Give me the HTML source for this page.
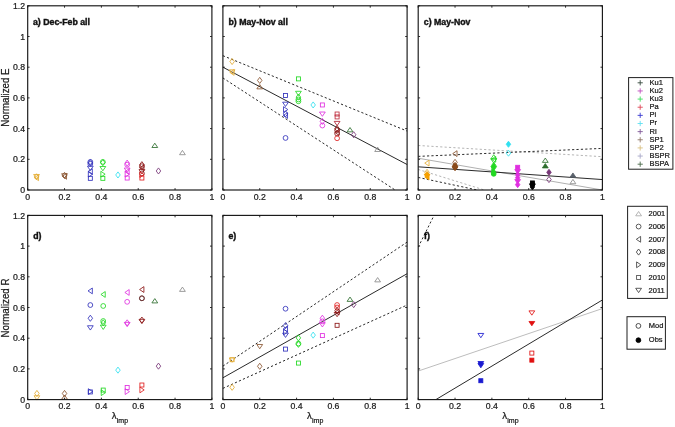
<!DOCTYPE html>
<html><head><meta charset="utf-8"><style>
html,body{margin:0;padding:0;background:#fff;}
body{width:675px;height:427px;overflow:hidden;}
svg{display:block;font-family:"Liberation Sans",sans-serif;will-change:transform;}
text{stroke:#111;stroke-width:0.22px;}
.b text{stroke-width:0.4px;}
</style></head><body>
<svg width="675" height="427" viewBox="0 0 675 427">
<rect width="675" height="427" fill="#fff"/>
<polygon points="36.54,173.75 38.79,176.80 36.54,179.85 34.29,176.80" fill="none" stroke="#e4ac34" stroke-width="0.85" stroke-linejoin="miter"/>
<polygon points="34.24,177.72 38.54,174.82 38.54,180.62" fill="none" stroke="#e4ac34" stroke-width="0.85" stroke-linejoin="miter"/>
<polygon points="36.54,178.79 39.44,174.49 33.64,174.49" fill="none" stroke="#e4ac34" stroke-width="0.85" stroke-linejoin="miter"/>
<polygon points="64.54,172.37 66.79,175.42 64.54,178.47 62.29,175.42" fill="none" stroke="#8a5530" stroke-width="0.85" stroke-linejoin="miter"/>
<polygon points="62.24,176.34 66.54,173.44 66.54,179.24" fill="none" stroke="#8a5530" stroke-width="0.85" stroke-linejoin="miter"/>
<polygon points="64.54,178.02 67.44,173.72 61.64,173.72" fill="none" stroke="#8a5530" stroke-width="0.85" stroke-linejoin="miter"/>
<circle cx="90.33" cy="161.91" r="2.40" fill="none" stroke="#3232bc" stroke-width="0.85"/>
<polygon points="90.33,159.63 92.58,162.68 90.33,165.73 88.08,162.68" fill="none" stroke="#3232bc" stroke-width="0.85" stroke-linejoin="miter"/>
<circle cx="90.33" cy="163.91" r="2.40" fill="none" stroke="#3232bc" stroke-width="0.85"/>
<polygon points="90.33,170.50 93.23,166.20 87.43,166.20" fill="none" stroke="#3232bc" stroke-width="0.85" stroke-linejoin="miter"/>
<polygon points="88.03,171.58 92.33,168.68 92.33,174.48" fill="none" stroke="#3232bc" stroke-width="0.85" stroke-linejoin="miter"/>
<polygon points="92.63,174.19 88.33,171.29 88.33,177.09" fill="none" stroke="#3232bc" stroke-width="0.85" stroke-linejoin="miter"/>
<rect x="88.33" y="176.33" width="4.00" height="4.00" fill="none" stroke="#3232bc" stroke-width="0.85"/>
<circle cx="102.85" cy="161.91" r="2.40" fill="none" stroke="#22d822" stroke-width="0.85"/>
<polygon points="102.85,159.63 105.10,162.68 102.85,165.73 100.60,162.68" fill="none" stroke="#22d822" stroke-width="0.85" stroke-linejoin="miter"/>
<polygon points="102.85,170.81 105.75,166.51 99.95,166.51" fill="none" stroke="#22d822" stroke-width="0.85" stroke-linejoin="miter"/>
<polygon points="105.15,174.19 100.85,171.29 100.85,177.09" fill="none" stroke="#22d822" stroke-width="0.85" stroke-linejoin="miter"/>
<rect x="100.85" y="176.33" width="4.00" height="4.00" fill="none" stroke="#22d822" stroke-width="0.85"/>
<polygon points="117.96,171.91 120.21,174.96 117.96,178.01 115.71,174.96" fill="none" stroke="#30e0f0" stroke-width="0.85" stroke-linejoin="miter"/>
<polygon points="127.17,160.09 129.42,163.14 127.17,166.19 124.92,163.14" fill="none" stroke="#e030e0" stroke-width="0.85" stroke-linejoin="miter"/>
<circle cx="127.17" cy="164.67" r="2.40" fill="none" stroke="#e030e0" stroke-width="0.85"/>
<polygon points="127.17,172.34 130.07,168.04 124.27,168.04" fill="none" stroke="#e030e0" stroke-width="0.85" stroke-linejoin="miter"/>
<polygon points="124.87,171.58 129.17,168.68 129.17,174.48" fill="none" stroke="#e030e0" stroke-width="0.85" stroke-linejoin="miter"/>
<polygon points="129.47,174.19 125.17,171.29 125.17,177.09" fill="none" stroke="#e030e0" stroke-width="0.85" stroke-linejoin="miter"/>
<rect x="125.17" y="176.03" width="4.00" height="4.00" fill="none" stroke="#e030e0" stroke-width="0.85"/>
<polygon points="141.90,161.62 144.15,164.67 141.90,167.72 139.65,164.67" fill="none" stroke="#8c1616" stroke-width="0.85" stroke-linejoin="miter"/>
<circle cx="141.90" cy="166.21" r="2.40" fill="none" stroke="#8c1616" stroke-width="0.85"/>
<polygon points="139.60,167.74 143.90,164.84 143.90,170.64" fill="none" stroke="#8c1616" stroke-width="0.85" stroke-linejoin="miter"/>
<polygon points="141.90,173.88 144.80,169.58 139.00,169.58" fill="none" stroke="#8c1616" stroke-width="0.85" stroke-linejoin="miter"/>
<circle cx="141.90" cy="173.42" r="2.40" fill="none" stroke="#8c1616" stroke-width="0.85"/>
<polygon points="144.20,174.65 139.90,171.75 139.90,177.55" fill="none" stroke="#e02020" stroke-width="0.85" stroke-linejoin="miter"/>
<rect x="139.90" y="176.03" width="4.00" height="4.00" fill="none" stroke="#e02020" stroke-width="0.85"/>
<polygon points="154.80,143.19 157.70,147.49 151.90,147.49" fill="none" stroke="#2e6e2e" stroke-width="0.85" stroke-linejoin="miter"/>
<polygon points="158.48,167.92 160.73,170.97 158.48,174.02 156.23,170.97" fill="none" stroke="#783878" stroke-width="0.85" stroke-linejoin="miter"/>
<polygon points="182.43,150.40 185.33,154.70 179.53,154.70" fill="none" stroke="#8a8a8a" stroke-width="0.85" stroke-linejoin="miter"/>
<line x1="222.90" y1="67.20" x2="407.10" y2="164.52" stroke="#2a2a2a" stroke-width="1.0"/>
<line x1="222.90" y1="55.69" x2="407.10" y2="131.06" stroke="#2a2a2a" stroke-width="1.0" stroke-dasharray="2.2,2.2"/>
<line x1="222.90" y1="77.95" x2="395.13" y2="190.00" stroke="#2a2a2a" stroke-width="1.0" stroke-dasharray="2.2,2.2"/>
<polygon points="232.11,58.47 234.36,61.52 232.11,64.57 229.86,61.52" fill="none" stroke="#e4ac34" stroke-width="0.85" stroke-linejoin="miter"/>
<polygon points="229.81,72.42 234.11,69.52 234.11,75.32" fill="none" stroke="#e4ac34" stroke-width="0.85" stroke-linejoin="miter"/>
<polygon points="232.11,74.10 235.01,69.80 229.21,69.80" fill="none" stroke="#e4ac34" stroke-width="0.85" stroke-linejoin="miter"/>
<polygon points="259.74,77.35 261.99,80.40 259.74,83.45 257.49,80.40" fill="none" stroke="#8a5530" stroke-width="0.85" stroke-linejoin="miter"/>
<polygon points="259.74,84.55 262.64,88.85 256.84,88.85" fill="none" stroke="#8a5530" stroke-width="0.85" stroke-linejoin="miter"/>
<rect x="283.53" y="93.44" width="4.00" height="4.00" fill="none" stroke="#3232bc" stroke-width="0.85"/>
<polygon points="285.53,106.49 288.43,102.19 282.63,102.19" fill="none" stroke="#3232bc" stroke-width="0.85" stroke-linejoin="miter"/>
<polygon points="287.83,109.57 283.53,106.67 283.53,112.47" fill="none" stroke="#3232bc" stroke-width="0.85" stroke-linejoin="miter"/>
<polygon points="285.53,110.81 287.78,113.86 285.53,116.91 283.28,113.86" fill="none" stroke="#3232bc" stroke-width="0.85" stroke-linejoin="miter"/>
<polygon points="283.23,115.55 287.53,112.65 287.53,118.45" fill="none" stroke="#3232bc" stroke-width="0.85" stroke-linejoin="miter"/>
<circle cx="285.53" cy="137.96" r="2.40" fill="none" stroke="#3232bc" stroke-width="0.85"/>
<rect x="296.42" y="76.87" width="4.00" height="4.00" fill="none" stroke="#22d822" stroke-width="0.85"/>
<polygon points="298.42,95.59 301.32,91.30 295.52,91.30" fill="none" stroke="#22d822" stroke-width="0.85" stroke-linejoin="miter"/>
<polygon points="298.42,94.08 300.67,97.13 298.42,100.18 296.17,97.13" fill="none" stroke="#22d822" stroke-width="0.85" stroke-linejoin="miter"/>
<circle cx="298.42" cy="99.44" r="2.40" fill="none" stroke="#22d822" stroke-width="0.85"/>
<circle cx="298.42" cy="101.28" r="2.40" fill="none" stroke="#22d822" stroke-width="0.85"/>
<polygon points="313.16,101.91 315.41,104.96 313.16,108.01 310.91,104.96" fill="none" stroke="#30e0f0" stroke-width="0.85" stroke-linejoin="miter"/>
<rect x="320.37" y="102.96" width="4.00" height="4.00" fill="none" stroke="#e030e0" stroke-width="0.85"/>
<polygon points="322.37,116.32 325.27,112.02 319.47,112.02" fill="none" stroke="#e030e0" stroke-width="0.85" stroke-linejoin="miter"/>
<polygon points="322.37,118.34 324.62,121.39 322.37,124.44 320.12,121.39" fill="none" stroke="#e030e0" stroke-width="0.85" stroke-linejoin="miter"/>
<circle cx="322.37" cy="125.53" r="2.40" fill="none" stroke="#e030e0" stroke-width="0.85"/>
<rect x="335.10" y="112.02" width="4.00" height="4.00" fill="none" stroke="#c03040" stroke-width="0.85"/>
<rect x="335.10" y="114.93" width="4.00" height="4.00" fill="none" stroke="#c03040" stroke-width="0.85"/>
<polygon points="337.10,125.68 340.00,121.38 334.20,121.38" fill="none" stroke="#b02030" stroke-width="0.85" stroke-linejoin="miter"/>
<polygon points="337.10,125.55 339.35,128.60 337.10,131.65 334.85,128.60" fill="none" stroke="#8c1616" stroke-width="0.85" stroke-linejoin="miter"/>
<circle cx="337.10" cy="130.13" r="2.40" fill="none" stroke="#8c1616" stroke-width="0.85"/>
<polygon points="334.80,132.44 339.10,129.54 339.10,135.34" fill="none" stroke="#8c1616" stroke-width="0.85" stroke-linejoin="miter"/>
<circle cx="337.10" cy="133.51" r="2.40" fill="none" stroke="#8c1616" stroke-width="0.85"/>
<circle cx="337.10" cy="138.27" r="2.40" fill="none" stroke="#e02020" stroke-width="0.85"/>
<polygon points="350.00,127.53 352.90,131.83 347.10,131.83" fill="none" stroke="#2e6e2e" stroke-width="0.85" stroke-linejoin="miter"/>
<polygon points="353.68,131.69 355.93,134.74 353.68,137.79 351.43,134.74" fill="none" stroke="#783878" stroke-width="0.85" stroke-linejoin="miter"/>
<polygon points="377.63,147.18 380.53,151.48 374.73,151.48" fill="none" stroke="#8a8a8a" stroke-width="0.85" stroke-linejoin="miter"/>
<clipPath id="cp20"><rect x="418.20" y="5.80" width="184.2" height="184.2"/></clipPath>
<g clip-path="url(#cp20)">
<line x1="418.20" y1="145.49" x2="602.40" y2="156.69" stroke="#b4b4b4" stroke-width="1.0" stroke-dasharray="2.2,2.2"/>
<line x1="418.20" y1="169.43" x2="484.33" y2="190.00" stroke="#b4b4b4" stroke-width="1.0" stroke-dasharray="2.2,2.2"/>
<line x1="418.20" y1="158.23" x2="602.40" y2="190.00" stroke="#b0b0b0" stroke-width="1.0"/>
<line x1="418.20" y1="156.38" x2="602.40" y2="148.40" stroke="#2a2a2a" stroke-width="1.0" stroke-dasharray="2.2,2.2"/>
<line x1="418.20" y1="177.41" x2="477.14" y2="190.00" stroke="#2a2a2a" stroke-width="1.0" stroke-dasharray="2.2,2.2"/>
<line x1="418.20" y1="166.82" x2="602.40" y2="179.56" stroke="#2a2a2a" stroke-width="1.0"/>
</g>
<polygon points="424.74,163.14 429.04,160.24 429.04,166.04" fill="none" stroke="#e4ac34" stroke-width="0.85" stroke-linejoin="miter"/>
<polygon points="427.04,169.30 429.29,172.35 427.04,175.40 424.79,172.35" fill="none" stroke="#e4ac34" stroke-width="0.85" stroke-linejoin="miter"/>
<polygon points="427.04,171.60 429.29,174.65 427.04,177.70 424.79,174.65" fill="#f5a000" stroke="#f5a000" stroke-width="0.85" stroke-linejoin="miter"/>
<polygon points="427.04,178.49 429.94,174.19 424.14,174.19" fill="#f5a000" stroke="#f5a000" stroke-width="0.85" stroke-linejoin="miter"/>
<polygon points="424.74,176.95 429.04,174.05 429.04,179.85" fill="#f5a000" stroke="#f5a000" stroke-width="0.85" stroke-linejoin="miter"/>
<polygon points="452.74,153.62 457.04,150.72 457.04,156.52" fill="none" stroke="#8a5530" stroke-width="0.85" stroke-linejoin="miter"/>
<polygon points="455.04,159.32 457.29,162.37 455.04,165.42 452.79,162.37" fill="none" stroke="#8a5530" stroke-width="0.85" stroke-linejoin="miter"/>
<polygon points="455.04,162.39 457.29,165.44 455.04,168.49 452.79,165.44" fill="#8a4a1a" stroke="#8a4a1a" stroke-width="0.85" stroke-linejoin="miter"/>
<circle cx="455.04" cy="166.97" r="2.40" fill="#8a4a1a" stroke="#8a4a1a" stroke-width="0.85"/>
<polygon points="455.04,170.81 457.94,166.51 452.14,166.51" fill="#8a4a1a" stroke="#8a4a1a" stroke-width="0.85" stroke-linejoin="miter"/>
<polygon points="493.72,154.70 496.62,159.00 490.82,159.00" fill="none" stroke="#22d822" stroke-width="0.85" stroke-linejoin="miter"/>
<polygon points="491.42,159.30 495.72,156.40 495.72,162.20" fill="none" stroke="#22d822" stroke-width="0.85" stroke-linejoin="miter"/>
<polygon points="493.72,163.14 496.62,158.84 490.82,158.84" fill="none" stroke="#22d822" stroke-width="0.85" stroke-linejoin="miter"/>
<polygon points="493.72,162.39 495.97,165.44 493.72,168.49 491.47,165.44" fill="#22d822" stroke="#22d822" stroke-width="0.85" stroke-linejoin="miter"/>
<polygon points="493.72,170.81 496.62,166.51 490.82,166.51" fill="#22d822" stroke="#22d822" stroke-width="0.85" stroke-linejoin="miter"/>
<polygon points="496.02,171.58 491.72,168.68 491.72,174.48" fill="#22d822" stroke="#22d822" stroke-width="0.85" stroke-linejoin="miter"/>
<circle cx="493.72" cy="173.88" r="2.40" fill="#22d822" stroke="#22d822" stroke-width="0.85"/>
<polygon points="508.46,141.21 510.71,144.26 508.46,147.31 506.21,144.26" fill="#30e0f0" stroke="#30e0f0" stroke-width="0.85" stroke-linejoin="miter"/>
<polygon points="508.46,150.11 510.71,153.16 508.46,156.21 506.21,153.16" fill="none" stroke="#30e0f0" stroke-width="0.85" stroke-linejoin="miter"/>
<rect x="515.67" y="165.28" width="4.00" height="4.00" fill="#e030e0" stroke="#e030e0" stroke-width="0.85"/>
<polygon points="517.67,173.88 520.57,169.58 514.77,169.58" fill="#e030e0" stroke="#e030e0" stroke-width="0.85" stroke-linejoin="miter"/>
<polygon points="517.67,171.60 519.92,174.65 517.67,177.70 515.42,174.65" fill="#e030e0" stroke="#e030e0" stroke-width="0.85" stroke-linejoin="miter"/>
<polygon points="517.67,174.67 519.92,177.72 517.67,180.77 515.42,177.72" fill="#e030e0" stroke="#e030e0" stroke-width="0.85" stroke-linejoin="miter"/>
<polygon points="517.67,183.86 520.57,179.56 514.77,179.56" fill="#e030e0" stroke="#e030e0" stroke-width="0.85" stroke-linejoin="miter"/>
<polygon points="517.67,181.58 519.92,184.63 517.67,187.68 515.42,184.63" fill="#e030e0" stroke="#e030e0" stroke-width="0.85" stroke-linejoin="miter"/>
<rect x="530.40" y="180.94" width="4.00" height="4.00" fill="#000000" stroke="#000000" stroke-width="0.85"/>
<circle cx="532.40" cy="184.47" r="2.40" fill="#000000" stroke="#000000" stroke-width="0.85"/>
<polygon points="532.40,188.16 535.30,183.86 529.50,183.86" fill="#000000" stroke="#000000" stroke-width="0.85" stroke-linejoin="miter"/>
<polygon points="532.40,183.88 534.65,186.93 532.40,189.98 530.15,186.93" fill="#000000" stroke="#000000" stroke-width="0.85" stroke-linejoin="miter"/>
<polygon points="545.30,158.07 548.20,162.37 542.40,162.37" fill="none" stroke="#2e6e2e" stroke-width="0.85" stroke-linejoin="miter"/>
<polygon points="545.30,163.60 548.20,167.90 542.40,167.90" fill="#2e6e2e" stroke="#2e6e2e" stroke-width="0.85" stroke-linejoin="miter"/>
<polygon points="548.98,169.30 551.23,172.35 548.98,175.40 546.73,172.35" fill="#783878" stroke="#783878" stroke-width="0.85" stroke-linejoin="miter"/>
<polygon points="548.98,176.51 551.23,179.56 548.98,182.61 546.73,179.56" fill="none" stroke="#783878" stroke-width="0.85" stroke-linejoin="miter"/>
<polygon points="572.93,172.96 575.83,177.26 570.03,177.26" fill="#58606a" stroke="#58606a" stroke-width="0.85" stroke-linejoin="miter"/>
<polygon points="572.93,179.41 575.83,183.71 570.03,183.71" fill="none" stroke="#8a8a8a" stroke-width="0.85" stroke-linejoin="miter"/>
<polygon points="36.91,390.41 39.16,393.46 36.91,396.51 34.66,393.46" fill="none" stroke="#e4ac34" stroke-width="0.85" stroke-linejoin="miter"/>
<polygon points="36.91,400.06 39.81,395.76 34.01,395.76" fill="none" stroke="#e4ac34" stroke-width="0.85" stroke-linejoin="miter"/>
<polygon points="64.54,390.41 66.79,393.46 64.54,396.51 62.29,393.46" fill="none" stroke="#8a5530" stroke-width="0.85" stroke-linejoin="miter"/>
<polygon points="64.54,395.00 67.44,399.30 61.64,399.30" fill="none" stroke="#8a5530" stroke-width="0.85" stroke-linejoin="miter"/>
<polygon points="88.03,290.92 92.33,288.02 92.33,293.82" fill="none" stroke="#3232bc" stroke-width="0.85" stroke-linejoin="miter"/>
<circle cx="90.33" cy="305.04" r="2.40" fill="none" stroke="#3232bc" stroke-width="0.85"/>
<polygon points="90.33,315.19 92.58,318.25 90.33,321.30 88.08,318.25" fill="none" stroke="#3232bc" stroke-width="0.85" stroke-linejoin="miter"/>
<polygon points="90.33,330.06 93.23,325.76 87.43,325.76" fill="none" stroke="#3232bc" stroke-width="0.85" stroke-linejoin="miter"/>
<polygon points="92.63,391.62 88.33,388.72 88.33,394.52" fill="none" stroke="#3232bc" stroke-width="0.85" stroke-linejoin="miter"/>
<rect x="88.33" y="389.93" width="4.00" height="4.00" fill="none" stroke="#3232bc" stroke-width="0.85"/>
<polygon points="100.92,294.45 105.22,291.55 105.22,297.35" fill="none" stroke="#22d822" stroke-width="0.85" stroke-linejoin="miter"/>
<circle cx="103.22" cy="305.97" r="2.40" fill="none" stroke="#22d822" stroke-width="0.85"/>
<circle cx="103.22" cy="321.01" r="2.40" fill="none" stroke="#22d822" stroke-width="0.85"/>
<polygon points="103.22,319.80 105.47,322.85 103.22,325.90 100.97,322.85" fill="none" stroke="#22d822" stroke-width="0.85" stroke-linejoin="miter"/>
<polygon points="103.22,329.45 106.12,325.15 100.32,325.15" fill="none" stroke="#22d822" stroke-width="0.85" stroke-linejoin="miter"/>
<rect x="101.22" y="388.08" width="4.00" height="4.00" fill="none" stroke="#22d822" stroke-width="0.85"/>
<polygon points="105.52,392.69 101.22,389.79 101.22,395.59" fill="none" stroke="#22d822" stroke-width="0.85" stroke-linejoin="miter"/>
<polygon points="124.87,292.46 129.17,289.56 129.17,295.36" fill="none" stroke="#e030e0" stroke-width="0.85" stroke-linejoin="miter"/>
<circle cx="127.17" cy="301.82" r="2.40" fill="none" stroke="#e030e0" stroke-width="0.85"/>
<polygon points="127.17,319.80 129.42,322.85 127.17,325.90 124.92,322.85" fill="none" stroke="#e030e0" stroke-width="0.85" stroke-linejoin="miter"/>
<polygon points="127.17,326.69 130.07,322.38 124.27,322.38" fill="none" stroke="#e030e0" stroke-width="0.85" stroke-linejoin="miter"/>
<rect x="125.17" y="385.47" width="4.00" height="4.00" fill="none" stroke="#e030e0" stroke-width="0.85"/>
<polygon points="129.47,391.62 125.17,388.72 125.17,394.52" fill="none" stroke="#e030e0" stroke-width="0.85" stroke-linejoin="miter"/>
<polygon points="139.60,289.54 143.90,286.64 143.90,292.44" fill="none" stroke="#8c1616" stroke-width="0.85" stroke-linejoin="miter"/>
<circle cx="141.90" cy="298.29" r="2.40" fill="none" stroke="#6a3030" stroke-width="0.85"/>
<circle cx="141.90" cy="298.29" r="2.40" fill="none" stroke="#6a3030" stroke-width="0.85"/>
<polygon points="141.90,317.04 144.15,320.09 141.90,323.14 139.65,320.09" fill="none" stroke="#8c1616" stroke-width="0.85" stroke-linejoin="miter"/>
<polygon points="141.90,323.62 144.80,319.32 139.00,319.32" fill="none" stroke="#8c1616" stroke-width="0.85" stroke-linejoin="miter"/>
<rect x="139.90" y="383.02" width="4.00" height="4.00" fill="none" stroke="#e02020" stroke-width="0.85"/>
<polygon points="144.20,389.93 139.90,387.03 139.90,392.83" fill="none" stroke="#e02020" stroke-width="0.85" stroke-linejoin="miter"/>
<polygon points="117.96,367.08 120.21,370.13 117.96,373.18 115.71,370.13" fill="none" stroke="#30e0f0" stroke-width="0.85" stroke-linejoin="miter"/>
<polygon points="158.48,363.09 160.73,366.14 158.48,369.19 156.23,366.14" fill="none" stroke="#783878" stroke-width="0.85" stroke-linejoin="miter"/>
<polygon points="154.80,298.60 157.70,302.90 151.90,302.90" fill="none" stroke="#2e6e2e" stroke-width="0.85" stroke-linejoin="miter"/>
<polygon points="182.43,287.09 185.33,291.39 179.53,291.39" fill="none" stroke="#8a8a8a" stroke-width="0.85" stroke-linejoin="miter"/>
<line x1="222.90" y1="377.80" x2="407.10" y2="273.73" stroke="#2a2a2a" stroke-width="1.0"/>
<line x1="222.90" y1="366.14" x2="407.10" y2="242.11" stroke="#2a2a2a" stroke-width="1.0" stroke-dasharray="2.2,2.2"/>
<line x1="222.90" y1="388.39" x2="407.10" y2="305.04" stroke="#2a2a2a" stroke-width="1.0" stroke-dasharray="2.2,2.2"/>
<rect x="230.11" y="357.69" width="4.00" height="4.00" fill="none" stroke="#e4ac34" stroke-width="0.85"/>
<polygon points="232.11,362.30 235.01,358.00 229.21,358.00" fill="none" stroke="#e4ac34" stroke-width="0.85" stroke-linejoin="miter"/>
<polygon points="232.11,384.27 234.36,387.32 232.11,390.37 229.86,387.32" fill="none" stroke="#e4ac34" stroke-width="0.85" stroke-linejoin="miter"/>
<polygon points="259.74,348.79 262.64,344.49 256.84,344.49" fill="none" stroke="#8a5530" stroke-width="0.85" stroke-linejoin="miter"/>
<polygon points="259.74,363.24 261.99,366.29 259.74,369.34 257.49,366.29" fill="none" stroke="#8a5530" stroke-width="0.85" stroke-linejoin="miter"/>
<circle cx="285.53" cy="308.73" r="2.40" fill="none" stroke="#3232bc" stroke-width="0.85"/>
<polygon points="285.53,322.56 287.78,325.61 285.53,328.66 283.28,325.61" fill="none" stroke="#3232bc" stroke-width="0.85" stroke-linejoin="miter"/>
<polygon points="283.23,328.99 287.53,326.09 287.53,331.89" fill="none" stroke="#3232bc" stroke-width="0.85" stroke-linejoin="miter"/>
<polygon points="287.83,332.06 283.53,329.16 283.53,334.96" fill="none" stroke="#3232bc" stroke-width="0.85" stroke-linejoin="miter"/>
<polygon points="285.53,337.43 288.43,333.13 282.63,333.13" fill="none" stroke="#3232bc" stroke-width="0.85" stroke-linejoin="miter"/>
<rect x="283.53" y="347.10" width="4.00" height="4.00" fill="none" stroke="#3232bc" stroke-width="0.85"/>
<polygon points="298.42,334.84 300.67,337.89 298.42,340.94 296.17,337.89" fill="none" stroke="#22d822" stroke-width="0.85" stroke-linejoin="miter"/>
<polygon points="298.42,341.29 300.67,344.34 298.42,347.39 296.17,344.34" fill="none" stroke="#22d822" stroke-width="0.85" stroke-linejoin="miter"/>
<circle cx="298.42" cy="343.57" r="2.40" fill="none" stroke="#22d822" stroke-width="0.85"/>
<rect x="296.42" y="361.07" width="4.00" height="4.00" fill="none" stroke="#22d822" stroke-width="0.85"/>
<polygon points="313.16,332.08 315.41,335.13 313.16,338.18 310.91,335.13" fill="none" stroke="#30e0f0" stroke-width="0.85" stroke-linejoin="miter"/>
<polygon points="322.37,315.19 324.62,318.25 322.37,321.30 320.12,318.25" fill="none" stroke="#e030e0" stroke-width="0.85" stroke-linejoin="miter"/>
<circle cx="322.37" cy="321.32" r="2.40" fill="none" stroke="#e030e0" stroke-width="0.85"/>
<polygon points="322.37,326.99 325.27,322.69 319.47,322.69" fill="none" stroke="#e030e0" stroke-width="0.85" stroke-linejoin="miter"/>
<rect x="320.37" y="333.59" width="4.00" height="4.00" fill="none" stroke="#e030e0" stroke-width="0.85"/>
<circle cx="337.10" cy="305.04" r="2.40" fill="none" stroke="#e02020" stroke-width="0.85"/>
<circle cx="337.10" cy="307.50" r="2.40" fill="none" stroke="#e02020" stroke-width="0.85"/>
<polygon points="337.10,307.52 339.35,310.57 337.10,313.62 334.85,310.57" fill="none" stroke="#8c1616" stroke-width="0.85" stroke-linejoin="miter"/>
<polygon points="334.80,312.11 339.10,309.21 339.10,315.00" fill="none" stroke="#8c1616" stroke-width="0.85" stroke-linejoin="miter"/>
<polygon points="337.10,316.71 340.00,312.41 334.20,312.41" fill="none" stroke="#8c1616" stroke-width="0.85" stroke-linejoin="miter"/>
<rect x="335.10" y="323.31" width="4.00" height="4.00" fill="none" stroke="#8c1616" stroke-width="0.85"/>
<polygon points="350.00,297.06 352.90,301.36 347.10,301.36" fill="none" stroke="#2e6e2e" stroke-width="0.85" stroke-linejoin="miter"/>
<polygon points="353.68,301.53 355.93,304.58 353.68,307.63 351.43,304.58" fill="none" stroke="#783878" stroke-width="0.85" stroke-linejoin="miter"/>
<polygon points="377.63,277.57 380.53,281.87 374.73,281.87" fill="none" stroke="#8a8a8a" stroke-width="0.85" stroke-linejoin="miter"/>
<clipPath id="cp21"><rect x="418.20" y="215.40" width="184.2" height="184.2"/></clipPath>
<g clip-path="url(#cp21)">
<line x1="418.20" y1="371.05" x2="602.40" y2="308.57" stroke="#bdbdbd" stroke-width="1.0"/>
<line x1="435.88" y1="399.60" x2="602.40" y2="299.98" stroke="#2a2a2a" stroke-width="1.0"/>
<line x1="418.20" y1="247.17" x2="434.04" y2="215.40" stroke="#2a2a2a" stroke-width="1.0" stroke-dasharray="2.2,2.2"/>
</g>
<polygon points="480.83,337.74 483.73,333.44 477.93,333.44" fill="none" stroke="#1a1ad0" stroke-width="0.85" stroke-linejoin="miter"/>
<polygon points="480.83,365.83 483.73,361.53 477.93,361.53" fill="#1a1ad0" stroke="#1a1ad0" stroke-width="0.85" stroke-linejoin="miter"/>
<polygon points="480.83,367.82 483.73,363.52 477.93,363.52" fill="#1a1ad0" stroke="#1a1ad0" stroke-width="0.85" stroke-linejoin="miter"/>
<rect x="478.83" y="378.72" width="4.00" height="4.00" fill="#1a1ad0" stroke="#1a1ad0" stroke-width="0.85"/>
<polygon points="531.85,315.17 534.75,310.87 528.95,310.87" fill="none" stroke="#e01010" stroke-width="0.85" stroke-linejoin="miter"/>
<polygon points="531.85,325.76 534.75,321.46 528.95,321.46" fill="#e01010" stroke="#e01010" stroke-width="0.85" stroke-linejoin="miter"/>
<rect x="529.85" y="351.09" width="4.00" height="4.00" fill="none" stroke="#e01010" stroke-width="0.85"/>
<rect x="529.85" y="358.15" width="4.00" height="4.00" fill="#e01010" stroke="#e01010" stroke-width="0.85"/>
<g stroke="#1a1a1a" stroke-width="0.9"><line x1="27.70" y1="190.00" x2="27.70" y2="188.10"/><line x1="27.70" y1="5.80" x2="27.70" y2="7.70"/><line x1="64.54" y1="190.00" x2="64.54" y2="188.10"/><line x1="64.54" y1="5.80" x2="64.54" y2="7.70"/><line x1="101.38" y1="190.00" x2="101.38" y2="188.10"/><line x1="101.38" y1="5.80" x2="101.38" y2="7.70"/><line x1="138.22" y1="190.00" x2="138.22" y2="188.10"/><line x1="138.22" y1="5.80" x2="138.22" y2="7.70"/><line x1="175.06" y1="190.00" x2="175.06" y2="188.10"/><line x1="175.06" y1="5.80" x2="175.06" y2="7.70"/><line x1="211.90" y1="190.00" x2="211.90" y2="188.10"/><line x1="211.90" y1="5.80" x2="211.90" y2="7.70"/><line x1="27.70" y1="190.00" x2="29.60" y2="190.00"/><line x1="211.90" y1="190.00" x2="210.00" y2="190.00"/><line x1="27.70" y1="159.30" x2="29.60" y2="159.30"/><line x1="211.90" y1="159.30" x2="210.00" y2="159.30"/><line x1="27.70" y1="128.60" x2="29.60" y2="128.60"/><line x1="211.90" y1="128.60" x2="210.00" y2="128.60"/><line x1="27.70" y1="97.90" x2="29.60" y2="97.90"/><line x1="211.90" y1="97.90" x2="210.00" y2="97.90"/><line x1="27.70" y1="67.20" x2="29.60" y2="67.20"/><line x1="211.90" y1="67.20" x2="210.00" y2="67.20"/><line x1="27.70" y1="36.50" x2="29.60" y2="36.50"/><line x1="211.90" y1="36.50" x2="210.00" y2="36.50"/><line x1="27.70" y1="5.80" x2="29.60" y2="5.80"/><line x1="211.90" y1="5.80" x2="210.00" y2="5.80"/></g>
<rect x="27.70" y="5.80" width="184.2" height="184.2" fill="none" stroke="#161616" stroke-width="1.15"/>
<g font-size="8.7" fill="#1e1e1e"><text x="27.70" y="199.70" text-anchor="middle">0</text><text x="64.54" y="199.70" text-anchor="middle">0.2</text><text x="101.38" y="199.70" text-anchor="middle">0.4</text><text x="138.22" y="199.70" text-anchor="middle">0.6</text><text x="175.06" y="199.70" text-anchor="middle">0.8</text><text x="211.90" y="199.70" text-anchor="middle">1</text></g>
<g font-size="8.7" fill="#1e1e1e"><text x="25.10" y="193.10" text-anchor="end">0</text><text x="25.10" y="162.40" text-anchor="end">0.2</text><text x="25.10" y="131.70" text-anchor="end">0.4</text><text x="25.10" y="101.00" text-anchor="end">0.6</text><text x="25.10" y="70.30" text-anchor="end">0.8</text><text x="25.10" y="39.60" text-anchor="end">1</text><text x="25.10" y="8.90" text-anchor="end">1.2</text></g>
<g stroke="#1a1a1a" stroke-width="0.9"><line x1="222.90" y1="190.00" x2="222.90" y2="188.10"/><line x1="222.90" y1="5.80" x2="222.90" y2="7.70"/><line x1="259.74" y1="190.00" x2="259.74" y2="188.10"/><line x1="259.74" y1="5.80" x2="259.74" y2="7.70"/><line x1="296.58" y1="190.00" x2="296.58" y2="188.10"/><line x1="296.58" y1="5.80" x2="296.58" y2="7.70"/><line x1="333.42" y1="190.00" x2="333.42" y2="188.10"/><line x1="333.42" y1="5.80" x2="333.42" y2="7.70"/><line x1="370.26" y1="190.00" x2="370.26" y2="188.10"/><line x1="370.26" y1="5.80" x2="370.26" y2="7.70"/><line x1="407.10" y1="190.00" x2="407.10" y2="188.10"/><line x1="407.10" y1="5.80" x2="407.10" y2="7.70"/><line x1="222.90" y1="190.00" x2="224.80" y2="190.00"/><line x1="407.10" y1="190.00" x2="405.20" y2="190.00"/><line x1="222.90" y1="159.30" x2="224.80" y2="159.30"/><line x1="407.10" y1="159.30" x2="405.20" y2="159.30"/><line x1="222.90" y1="128.60" x2="224.80" y2="128.60"/><line x1="407.10" y1="128.60" x2="405.20" y2="128.60"/><line x1="222.90" y1="97.90" x2="224.80" y2="97.90"/><line x1="407.10" y1="97.90" x2="405.20" y2="97.90"/><line x1="222.90" y1="67.20" x2="224.80" y2="67.20"/><line x1="407.10" y1="67.20" x2="405.20" y2="67.20"/><line x1="222.90" y1="36.50" x2="224.80" y2="36.50"/><line x1="407.10" y1="36.50" x2="405.20" y2="36.50"/><line x1="222.90" y1="5.80" x2="224.80" y2="5.80"/><line x1="407.10" y1="5.80" x2="405.20" y2="5.80"/></g>
<rect x="222.90" y="5.80" width="184.2" height="184.2" fill="none" stroke="#161616" stroke-width="1.15"/>
<g font-size="8.7" fill="#1e1e1e"><text x="222.90" y="199.70" text-anchor="middle">0</text><text x="259.74" y="199.70" text-anchor="middle">0.2</text><text x="296.58" y="199.70" text-anchor="middle">0.4</text><text x="333.42" y="199.70" text-anchor="middle">0.6</text><text x="370.26" y="199.70" text-anchor="middle">0.8</text><text x="407.10" y="199.70" text-anchor="middle">1</text></g>
<g stroke="#1a1a1a" stroke-width="0.9"><line x1="418.20" y1="190.00" x2="418.20" y2="188.10"/><line x1="418.20" y1="5.80" x2="418.20" y2="7.70"/><line x1="455.04" y1="190.00" x2="455.04" y2="188.10"/><line x1="455.04" y1="5.80" x2="455.04" y2="7.70"/><line x1="491.88" y1="190.00" x2="491.88" y2="188.10"/><line x1="491.88" y1="5.80" x2="491.88" y2="7.70"/><line x1="528.72" y1="190.00" x2="528.72" y2="188.10"/><line x1="528.72" y1="5.80" x2="528.72" y2="7.70"/><line x1="565.56" y1="190.00" x2="565.56" y2="188.10"/><line x1="565.56" y1="5.80" x2="565.56" y2="7.70"/><line x1="602.40" y1="190.00" x2="602.40" y2="188.10"/><line x1="602.40" y1="5.80" x2="602.40" y2="7.70"/><line x1="418.20" y1="190.00" x2="420.10" y2="190.00"/><line x1="602.40" y1="190.00" x2="600.50" y2="190.00"/><line x1="418.20" y1="159.30" x2="420.10" y2="159.30"/><line x1="602.40" y1="159.30" x2="600.50" y2="159.30"/><line x1="418.20" y1="128.60" x2="420.10" y2="128.60"/><line x1="602.40" y1="128.60" x2="600.50" y2="128.60"/><line x1="418.20" y1="97.90" x2="420.10" y2="97.90"/><line x1="602.40" y1="97.90" x2="600.50" y2="97.90"/><line x1="418.20" y1="67.20" x2="420.10" y2="67.20"/><line x1="602.40" y1="67.20" x2="600.50" y2="67.20"/><line x1="418.20" y1="36.50" x2="420.10" y2="36.50"/><line x1="602.40" y1="36.50" x2="600.50" y2="36.50"/><line x1="418.20" y1="5.80" x2="420.10" y2="5.80"/><line x1="602.40" y1="5.80" x2="600.50" y2="5.80"/></g>
<rect x="418.20" y="5.80" width="184.2" height="184.2" fill="none" stroke="#161616" stroke-width="1.15"/>
<g font-size="8.7" fill="#1e1e1e"><text x="418.20" y="199.70" text-anchor="middle">0</text><text x="455.04" y="199.70" text-anchor="middle">0.2</text><text x="491.88" y="199.70" text-anchor="middle">0.4</text><text x="528.72" y="199.70" text-anchor="middle">0.6</text><text x="565.56" y="199.70" text-anchor="middle">0.8</text><text x="602.40" y="199.70" text-anchor="middle">1</text></g>
<g stroke="#1a1a1a" stroke-width="0.9"><line x1="27.70" y1="399.60" x2="27.70" y2="397.70"/><line x1="27.70" y1="215.40" x2="27.70" y2="217.30"/><line x1="64.54" y1="399.60" x2="64.54" y2="397.70"/><line x1="64.54" y1="215.40" x2="64.54" y2="217.30"/><line x1="101.38" y1="399.60" x2="101.38" y2="397.70"/><line x1="101.38" y1="215.40" x2="101.38" y2="217.30"/><line x1="138.22" y1="399.60" x2="138.22" y2="397.70"/><line x1="138.22" y1="215.40" x2="138.22" y2="217.30"/><line x1="175.06" y1="399.60" x2="175.06" y2="397.70"/><line x1="175.06" y1="215.40" x2="175.06" y2="217.30"/><line x1="211.90" y1="399.60" x2="211.90" y2="397.70"/><line x1="211.90" y1="215.40" x2="211.90" y2="217.30"/><line x1="27.70" y1="399.60" x2="29.60" y2="399.60"/><line x1="211.90" y1="399.60" x2="210.00" y2="399.60"/><line x1="27.70" y1="368.90" x2="29.60" y2="368.90"/><line x1="211.90" y1="368.90" x2="210.00" y2="368.90"/><line x1="27.70" y1="338.20" x2="29.60" y2="338.20"/><line x1="211.90" y1="338.20" x2="210.00" y2="338.20"/><line x1="27.70" y1="307.50" x2="29.60" y2="307.50"/><line x1="211.90" y1="307.50" x2="210.00" y2="307.50"/><line x1="27.70" y1="276.80" x2="29.60" y2="276.80"/><line x1="211.90" y1="276.80" x2="210.00" y2="276.80"/><line x1="27.70" y1="246.10" x2="29.60" y2="246.10"/><line x1="211.90" y1="246.10" x2="210.00" y2="246.10"/><line x1="27.70" y1="215.40" x2="29.60" y2="215.40"/><line x1="211.90" y1="215.40" x2="210.00" y2="215.40"/></g>
<rect x="27.70" y="215.40" width="184.2" height="184.2" fill="none" stroke="#161616" stroke-width="1.15"/>
<g font-size="8.7" fill="#1e1e1e"><text x="27.70" y="409.30" text-anchor="middle">0</text><text x="64.54" y="409.30" text-anchor="middle">0.2</text><text x="101.38" y="409.30" text-anchor="middle">0.4</text><text x="138.22" y="409.30" text-anchor="middle">0.6</text><text x="175.06" y="409.30" text-anchor="middle">0.8</text><text x="211.90" y="409.30" text-anchor="middle">1</text></g>
<g font-size="8.7" fill="#1e1e1e"><text x="25.10" y="402.70" text-anchor="end">0</text><text x="25.10" y="372.00" text-anchor="end">0.2</text><text x="25.10" y="341.30" text-anchor="end">0.4</text><text x="25.10" y="310.60" text-anchor="end">0.6</text><text x="25.10" y="279.90" text-anchor="end">0.8</text><text x="25.10" y="249.20" text-anchor="end">1</text><text x="25.10" y="218.50" text-anchor="end">1.2</text></g>
<g stroke="#1a1a1a" stroke-width="0.9"><line x1="222.90" y1="399.60" x2="222.90" y2="397.70"/><line x1="222.90" y1="215.40" x2="222.90" y2="217.30"/><line x1="259.74" y1="399.60" x2="259.74" y2="397.70"/><line x1="259.74" y1="215.40" x2="259.74" y2="217.30"/><line x1="296.58" y1="399.60" x2="296.58" y2="397.70"/><line x1="296.58" y1="215.40" x2="296.58" y2="217.30"/><line x1="333.42" y1="399.60" x2="333.42" y2="397.70"/><line x1="333.42" y1="215.40" x2="333.42" y2="217.30"/><line x1="370.26" y1="399.60" x2="370.26" y2="397.70"/><line x1="370.26" y1="215.40" x2="370.26" y2="217.30"/><line x1="407.10" y1="399.60" x2="407.10" y2="397.70"/><line x1="407.10" y1="215.40" x2="407.10" y2="217.30"/><line x1="222.90" y1="399.60" x2="224.80" y2="399.60"/><line x1="407.10" y1="399.60" x2="405.20" y2="399.60"/><line x1="222.90" y1="368.90" x2="224.80" y2="368.90"/><line x1="407.10" y1="368.90" x2="405.20" y2="368.90"/><line x1="222.90" y1="338.20" x2="224.80" y2="338.20"/><line x1="407.10" y1="338.20" x2="405.20" y2="338.20"/><line x1="222.90" y1="307.50" x2="224.80" y2="307.50"/><line x1="407.10" y1="307.50" x2="405.20" y2="307.50"/><line x1="222.90" y1="276.80" x2="224.80" y2="276.80"/><line x1="407.10" y1="276.80" x2="405.20" y2="276.80"/><line x1="222.90" y1="246.10" x2="224.80" y2="246.10"/><line x1="407.10" y1="246.10" x2="405.20" y2="246.10"/><line x1="222.90" y1="215.40" x2="224.80" y2="215.40"/><line x1="407.10" y1="215.40" x2="405.20" y2="215.40"/></g>
<rect x="222.90" y="215.40" width="184.2" height="184.2" fill="none" stroke="#161616" stroke-width="1.15"/>
<g font-size="8.7" fill="#1e1e1e"><text x="222.90" y="409.30" text-anchor="middle">0</text><text x="259.74" y="409.30" text-anchor="middle">0.2</text><text x="296.58" y="409.30" text-anchor="middle">0.4</text><text x="333.42" y="409.30" text-anchor="middle">0.6</text><text x="370.26" y="409.30" text-anchor="middle">0.8</text><text x="407.10" y="409.30" text-anchor="middle">1</text></g>
<g stroke="#1a1a1a" stroke-width="0.9"><line x1="418.20" y1="399.60" x2="418.20" y2="397.70"/><line x1="418.20" y1="215.40" x2="418.20" y2="217.30"/><line x1="455.04" y1="399.60" x2="455.04" y2="397.70"/><line x1="455.04" y1="215.40" x2="455.04" y2="217.30"/><line x1="491.88" y1="399.60" x2="491.88" y2="397.70"/><line x1="491.88" y1="215.40" x2="491.88" y2="217.30"/><line x1="528.72" y1="399.60" x2="528.72" y2="397.70"/><line x1="528.72" y1="215.40" x2="528.72" y2="217.30"/><line x1="565.56" y1="399.60" x2="565.56" y2="397.70"/><line x1="565.56" y1="215.40" x2="565.56" y2="217.30"/><line x1="602.40" y1="399.60" x2="602.40" y2="397.70"/><line x1="602.40" y1="215.40" x2="602.40" y2="217.30"/><line x1="418.20" y1="399.60" x2="420.10" y2="399.60"/><line x1="602.40" y1="399.60" x2="600.50" y2="399.60"/><line x1="418.20" y1="368.90" x2="420.10" y2="368.90"/><line x1="602.40" y1="368.90" x2="600.50" y2="368.90"/><line x1="418.20" y1="338.20" x2="420.10" y2="338.20"/><line x1="602.40" y1="338.20" x2="600.50" y2="338.20"/><line x1="418.20" y1="307.50" x2="420.10" y2="307.50"/><line x1="602.40" y1="307.50" x2="600.50" y2="307.50"/><line x1="418.20" y1="276.80" x2="420.10" y2="276.80"/><line x1="602.40" y1="276.80" x2="600.50" y2="276.80"/><line x1="418.20" y1="246.10" x2="420.10" y2="246.10"/><line x1="602.40" y1="246.10" x2="600.50" y2="246.10"/><line x1="418.20" y1="215.40" x2="420.10" y2="215.40"/><line x1="602.40" y1="215.40" x2="600.50" y2="215.40"/></g>
<rect x="418.20" y="215.40" width="184.2" height="184.2" fill="none" stroke="#161616" stroke-width="1.15"/>
<g font-size="8.7" fill="#1e1e1e"><text x="418.20" y="409.30" text-anchor="middle">0</text><text x="455.04" y="409.30" text-anchor="middle">0.2</text><text x="491.88" y="409.30" text-anchor="middle">0.4</text><text x="528.72" y="409.30" text-anchor="middle">0.6</text><text x="565.56" y="409.30" text-anchor="middle">0.8</text><text x="602.40" y="409.30" text-anchor="middle">1</text></g>
<g font-size="8.75" font-weight="bold" fill="#111" class="b">
<text x="33.0" y="24.7">a) Dec-Feb all</text>
<text x="228.5" y="24.7">b) May-Nov all</text>
<text x="423.8" y="24.7">c) May-Nov</text>
<text x="33.2" y="238.7">d)</text>
<text x="228.4" y="238.7">e)</text>
<text x="424.0" y="238.7">f)</text>
</g>
<g font-size="10.6" fill="#1e1e1e">
<text transform="translate(8.9,97.6) rotate(-90)" text-anchor="middle" textLength="58.4" lengthAdjust="spacingAndGlyphs">Normalized E</text>
<text transform="translate(8.9,308.0) rotate(-90)" text-anchor="middle" textLength="59.0" lengthAdjust="spacingAndGlyphs">Normalized R</text>
</g>
<text x="111.70" y="419.4" font-size="9.6" fill="#1e1e1e">λ</text>
<text x="116.80" y="422.9" font-size="7.0" fill="#1e1e1e">imp</text>
<text x="306.90" y="419.4" font-size="9.6" fill="#1e1e1e">λ</text>
<text x="312.00" y="422.9" font-size="7.0" fill="#1e1e1e">imp</text>
<text x="502.20" y="419.4" font-size="9.6" fill="#1e1e1e">λ</text>
<text x="507.30" y="422.9" font-size="7.0" fill="#1e1e1e">imp</text>
<rect x="628.6" y="77.6" width="44.3" height="91.6" fill="#fff" stroke="#1e1e1e" stroke-width="1"/>
<path d="M637.6 82.80H642.8M640.2 80.20V85.40" stroke="#34483c" stroke-width="0.9"/>
<text x="649.6" y="84.70" font-size="7.5" fill="#1e1e1e">Ku1</text>
<path d="M637.6 90.94H642.8M640.2 88.34V93.54" stroke="#c050c0" stroke-width="0.9"/>
<text x="649.6" y="92.84" font-size="7.5" fill="#1e1e1e">Ku2</text>
<path d="M637.6 99.08H642.8M640.2 96.48V101.68" stroke="#40e060" stroke-width="0.9"/>
<text x="649.6" y="100.98" font-size="7.5" fill="#1e1e1e">Ku3</text>
<path d="M637.6 107.22H642.8M640.2 104.62V109.82" stroke="#e04858" stroke-width="0.9"/>
<text x="649.6" y="109.12" font-size="7.5" fill="#1e1e1e">Pa</text>
<path d="M637.6 115.36H642.8M640.2 112.76V117.96" stroke="#3838d0" stroke-width="0.9"/>
<text x="649.6" y="117.26" font-size="7.5" fill="#1e1e1e">Pi</text>
<path d="M637.6 123.50H642.8M640.2 120.90V126.10" stroke="#60e0f0" stroke-width="0.9"/>
<text x="649.6" y="125.40" font-size="7.5" fill="#1e1e1e">Pr</text>
<path d="M637.6 131.64H642.8M640.2 129.04V134.24" stroke="#805898" stroke-width="0.9"/>
<text x="649.6" y="133.54" font-size="7.5" fill="#1e1e1e">Rl</text>
<path d="M637.6 139.78H642.8M640.2 137.18V142.38" stroke="#907868" stroke-width="0.9"/>
<text x="649.6" y="141.68" font-size="7.5" fill="#1e1e1e">SP1</text>
<path d="M637.6 147.92H642.8M640.2 145.32V150.52" stroke="#d8c080" stroke-width="0.9"/>
<text x="649.6" y="149.82" font-size="7.5" fill="#1e1e1e">SP2</text>
<path d="M637.6 156.06H642.8M640.2 153.46V158.66" stroke="#a8a8c8" stroke-width="0.9"/>
<text x="649.6" y="157.96" font-size="7.5" fill="#1e1e1e">BSPR</text>
<path d="M637.6 164.20H642.8M640.2 161.60V166.80" stroke="#4a6a4a" stroke-width="0.9"/>
<text x="649.6" y="166.10" font-size="7.5" fill="#1e1e1e">BSPA</text>
<rect x="627.6" y="206.3" width="39.7" height="92.1" fill="#fff" stroke="#1e1e1e" stroke-width="1"/>
<polygon points="638.60,211.50 641.50,215.80 635.70,215.80" fill="none" stroke="#a8a8a8" stroke-width="0.85" stroke-linejoin="miter"/>
<text x="648.6" y="216.10" font-size="7.5" fill="#1e1e1e">2001</text>
<circle cx="638.60" cy="226.55" r="2.40" fill="none" stroke="#404040" stroke-width="0.85"/>
<text x="648.6" y="228.85" font-size="7.5" fill="#1e1e1e">2006</text>
<polygon points="636.30,239.30 640.60,236.40 640.60,242.20" fill="none" stroke="#404040" stroke-width="0.85" stroke-linejoin="miter"/>
<text x="648.6" y="241.60" font-size="7.5" fill="#1e1e1e">2007</text>
<polygon points="638.60,249.00 640.85,252.05 638.60,255.10 636.35,252.05" fill="none" stroke="#404040" stroke-width="0.85" stroke-linejoin="miter"/>
<text x="648.6" y="254.35" font-size="7.5" fill="#1e1e1e">2008</text>
<polygon points="640.90,264.80 636.60,261.90 636.60,267.70" fill="none" stroke="#404040" stroke-width="0.85" stroke-linejoin="miter"/>
<text x="648.6" y="267.10" font-size="7.5" fill="#1e1e1e">2009</text>
<rect x="636.60" y="275.55" width="4.00" height="4.00" fill="none" stroke="#505050" stroke-width="0.85"/>
<text x="648.6" y="279.85" font-size="7.5" fill="#1e1e1e">2010</text>
<polygon points="638.60,292.60 641.50,288.30 635.70,288.30" fill="none" stroke="#404040" stroke-width="0.85" stroke-linejoin="miter"/>
<text x="648.6" y="292.60" font-size="7.5" fill="#1e1e1e">2011</text>
<rect x="627.0" y="316.7" width="38.4" height="32.5" fill="#fff" stroke="#1e1e1e" stroke-width="1"/>
<circle cx="638.40" cy="325.90" r="2.40" fill="none" stroke="#303030" stroke-width="0.85"/>
<circle cx="638.40" cy="340.20" r="2.40" fill="#000000" stroke="#000000" stroke-width="0.85"/>
<text x="648.8" y="328.10" font-size="7.5" fill="#1e1e1e">Mod</text>
<text x="648.8" y="342.40" font-size="7.5" fill="#1e1e1e">Obs</text>
</svg>
</body></html>
